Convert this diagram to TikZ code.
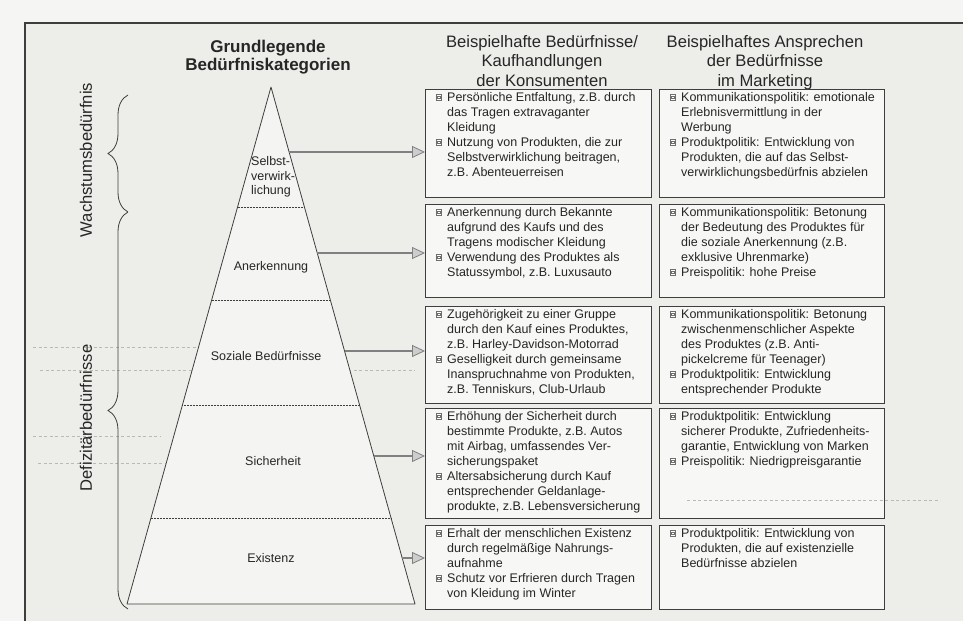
\documentclass[tikz,border=0pt]{standalone}
\usepackage{fontspec}
\setmainfont{Liberation Sans}
\usetikzlibrary{arrows.meta,decorations.pathreplacing,calc}
\definecolor{paper}{RGB}{237,237,234}
\definecolor{paperout}{RGB}{245,245,243}
\definecolor{boxfill}{RGB}{247,247,245}
\definecolor{pyrfill}{RGB}{244,244,242}
\definecolor{ink}{RGB}{38,38,38}
\definecolor{linec}{RGB}{62,62,62}
\definecolor{bulc}{RGB}{110,110,110}
\definecolor{arrowc}{RGB}{128,128,128}
\definecolor{arrowhd}{RGB}{205,205,205}
\definecolor{scan}{RGB}{185,185,182}
\newcommand\sqbul{\tikz[baseline=0pt]{\draw[bulc,line width=0.5pt,fill=white] (0pt,1.8pt) rectangle (5.5pt,7.3pt); \draw[bulc,line width=0.35pt] (1.6pt,3.4pt) rectangle (3.9pt,5.7pt);}}
\newcommand\itm{\llap{\sqbul\hspace{5.5pt}}}
\tikzset{
  boxr/.style={draw=linec, line width=0.9pt, fill=boxfill, anchor=north west, inner sep=0pt},
  btext/.style={anchor=north west, inner sep=0pt, align=left, text=ink, font=\fontsize{12.5}{15}\selectfont},
  hdr/.style={anchor=north, inner sep=0pt, align=center, text=ink, font=\fontsize{16.6}{19.7}\selectfont},
  hdrb/.style={anchor=north, inner sep=0pt, align=center, text=ink, font=\bfseries\fontsize{17}{18}\selectfont},
  lvl/.style={inner sep=0pt, align=center, text=ink, font=\fontsize{12.5}{14.5}\selectfont},
  flow/.style={draw=arrowc, line width=2.2pt, -{Triangle[length=13pt,width=12pt,fill=arrowhd,line width=0.8pt]}},
  brc/.style={draw=linec, line width=0.8pt, decorate, decoration={brace, amplitude=20pt}},
  side/.style={rotate=90, inner sep=0pt, text=ink, font=\fontsize{16.6}{19}\selectfont},
  scanl/.style={draw=scan, line width=0.5pt, dash pattern=on 3pt off 2.5pt},
  divl/.style={draw=linec, line width=0.7pt, dash pattern=on 1pt off 0.5pt}
}
\begin{document}
\begin{tikzpicture}[x=1pt,y=-1pt]
\useasboundingbox (0,0) rectangle (963,621);
\fill[paperout] (0,0) rectangle (963,621);
\fill[paper] (25,23) rectangle (963,621);
\draw[linec, line width=1.1pt] (25,621) -- (25,23) -- (963,23);

% faint scan artefacts
\draw[scanl] (33,347) -- (200,347);
\draw[scanl] (40,370) -- (415,370);
\draw[scanl] (33,436) -- (160,436);
\draw[scanl] (38,463) -- (243,463);

% headers
\node[hdrb] (h1) at (268,39.4) {\strut Grundlegende\\Bedürfniskategorien};
\node[hdr] (h2) at (542,33.2) {\strut Beispielhafte Bedürfnisse/\\Kaufhandlungen\\der Konsumenten};
\node[hdr] (h3) at (765,33.2) {\strut Beispielhaftes Ansprechen\\der Bedürfnisse\\im Marketing};

% side labels and braces
\node[side] (w) at (86,160) {Wachstumsbedürfnis};
\node[side] (d) at (86,418) {Defizitärbedürfnisse};
\coordinate (bt) at (128,95);
\coordinate (bm) at (128,212);
\coordinate (bb) at (128,609);
\draw[brc] (bm) -- (bt);
\draw[brc] (bb) -- (bm);

% pyramid
\coordinate (apex) at (271,87);
\coordinate (bl) at (127,604);
\coordinate (br) at (415,604);
\filldraw[fill=pyrfill, draw=linec, line width=0.8pt, line join=round] (apex) -- (br) -- (bl) -- cycle;
\foreach \t in {0.232,0.412,0.615,0.834}
  \draw[divl] ($(apex)!\t!(bl)$) -- ($(apex)!\t!(br)$);
\node[lvl, align=left, anchor=west] (l1) at (251,177) {Selbst-\\verwirk-\\lichung};
\node[lvl] (l2) at (271,267) {Anerkennung};
\node[lvl] (l3) at (266,356) {Soziale Bedürfnisse};
\node[lvl] (l4) at (273,461) {Sicherheit};
\node[lvl] (l5) at (271,558) {Existenz};

% boxes, left column
\node[boxr, minimum width=226pt, minimum height=108pt] (k1) at (425,89) {};
\node[boxr, minimum width=226pt, minimum height=93pt] (k2) at (425,204) {};
\node[boxr, minimum width=226pt, minimum height=97pt] (k3) at (425,306) {};
\node[boxr, minimum width=226pt, minimum height=110pt] (k4) at (425,408) {};
\node[boxr, minimum width=226pt, minimum height=84pt] (k5) at (425,525) {};
% boxes, right column
\node[boxr, minimum width=225pt, minimum height=108pt] (m1) at (659,89) {};
\node[boxr, minimum width=225pt, minimum height=93pt] (m2) at (659,204) {};
\node[boxr, minimum width=225pt, minimum height=97pt] (m3) at (659,306) {};
\node[boxr, minimum width=225pt, minimum height=110pt] (m4) at (659,408) {};
\node[boxr, minimum width=225pt, minimum height=84pt] (m5) at (659,525) {};

\draw[scanl] (687,500) -- (940,500);

% texts, left column
\node[btext] (tk1) at (447,91) {\strut\itm Persönliche Entfaltung, z.B. durch\\das Tragen extravaganter\\Kleidung\\\itm Nutzung von Produkten, die zur\\Selbstverwirklichung beitragen,\\z.B. Abenteuerreisen};
\node[btext] (tk2) at (447,206) {\strut\itm Anerkennung durch Bekannte\\aufgrund des Kaufs und des\\Tragens modischer Kleidung\\\itm Verwendung des Produktes als\\Statussymbol, z.B. Luxusauto};
\node[btext] (tk3) at (447,308) {\strut\itm Zugehörigkeit zu einer Gruppe\\durch den Kauf eines Produktes,\\z.B. Harley-Davidson-Motorrad\\\itm Geselligkeit durch gemeinsame\\Inanspruchnahme von Produkten,\\z.B. Tenniskurs, Club-Urlaub};
\node[btext] (tk4) at (447,410) {\strut\itm Erhöhung der Sicherheit durch\\bestimmte Produkte, z.B. Autos\\mit Airbag, umfassendes Ver-\\sicherungspaket\\\itm Altersabsicherung durch Kauf\\entsprechender Geldanlage-\\produkte, z.B. Lebensversicherung};
\node[btext] (tk5) at (447,527) {\strut\itm Erhalt der menschlichen Existenz\\durch regelmäßige Nahrungs-\\aufnahme\\\itm Schutz vor Erfrieren durch Tragen\\von Kleidung im Winter};

% texts, right column
\node[btext] (tm1) at (681,91) {\strut\itm Kommunikationspolitik: emotionale\\Erlebnisvermittlung in der\\Werbung\\\itm Produktpolitik: Entwicklung von\\Produkten, die auf das Selbst-\\verwirklichungsbedürfnis abzielen};
\node[btext] (tm2) at (681,206) {\strut\itm Kommunikationspolitik: Betonung\\der Bedeutung des Produktes für\\die soziale Anerkennung (z.B.\\exklusive Uhrenmarke)\\\itm Preispolitik: hohe Preise};
\node[btext] (tm3) at (681,308) {\strut\itm Kommunikationspolitik: Betonung\\zwischenmenschlicher Aspekte\\des Produktes (z.B. Anti-\\pickelcreme für Teenager)\\\itm Produktpolitik: Entwicklung\\entsprechender Produkte};
\node[btext] (tm4) at (681,410) {\strut\itm Produktpolitik: Entwicklung\\sicherer Produkte, Zufriedenheits-\\garantie, Entwicklung von Marken\\\itm Preispolitik: Niedrigpreisgarantie};
\node[btext] (tm5) at (681,527) {\strut\itm Produktpolitik: Entwicklung von\\Produkten, die auf existenzielle\\Bedürfnisse abzielen};

% arrows from pyramid to boxes
\coordinate (a1) at ($(apex)!0.1257!(br)$);
\coordinate (a2) at ($(apex)!0.3211!(br)$);
\coordinate (a3) at ($(apex)!0.5106!(br)$);
\coordinate (a4) at ($(apex)!0.7137!(br)$);
\coordinate (a5) at ($(apex)!0.911!(br)$);
\draw[flow] (a1) -- (a1 -| k1.west);
\draw[flow] (a2) -- (a2 -| k2.west);
\draw[flow] (a3) -- (a3 -| k3.west);
\draw[flow] (a4) -- (a4 -| k4.west);
\draw[flow] (a5) -- (a5 -| k5.west);
\end{tikzpicture}
\end{document}
